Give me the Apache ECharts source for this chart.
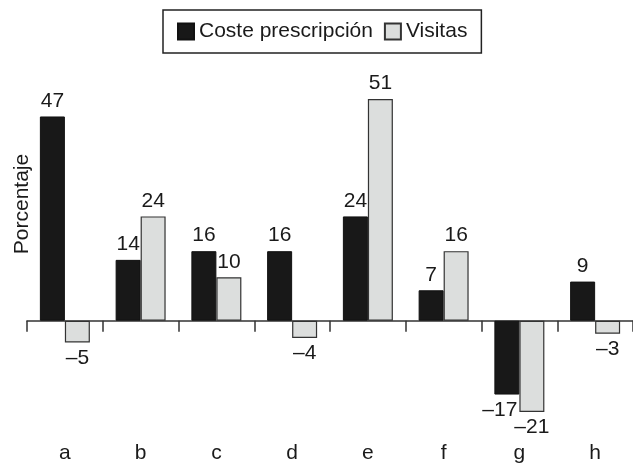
<!DOCTYPE html>
<html>
<head>
<meta charset="utf-8">
<script src="https://cdn.jsdelivr.net/npm/echarts@6/dist/echarts.min.js"></script>
<style>
html,body{margin:0;padding:0;background:#fff;}
#chart{width:633px;height:464px;}
</style>
</head>
<body>
<div id="chart"></div>
<script>
const categories = ['a','b','c','d','e','f','g','h'];
const costePrescripcion = [47, 14, 16, 16, 24, 7, -17, 9];
const visitas = [-5, 24, 10, -4, 51, 16, -21, -3];
const seriesNames = ['Coste prescripción', 'Visitas'];
const yAxisTitle = 'Porcentaje';

const FONT = '"Liberation Sans", Arial, sans-serif';
const TEXT = '#1a1a1a';
const FS = 21;

function fmt(p) {
  const v = p.value;
  return v < 0 ? '\u2013' + Math.abs(v) : String(v);
}

function labelled(values, isBlack) {
  return values.map(function (v, i) {
    const item = { value: v, label: { position: v < 0 ? 'bottom' : 'top' } };
    if (isBlack && v < 0 && visitas[i] < 0) {
      item.label.offset = [-7, 0];
    }
    return item;
  });
}

const chart = echarts.init(document.getElementById('chart'), null, { renderer: 'canvas' });
chart.setOption({
  animation: false,
  backgroundColor: '#ffffff',
  textStyle: { fontFamily: FONT },
  legend: {
    left: 163,
    top: 10,
    padding: [11, 14, 11, 14],
    itemWidth: 16,
    itemHeight: 16,
    itemGap: 11,
    borderColor: '#222',
    borderWidth: 1.5,
    borderRadius: 0,
    textStyle: { fontSize: FS, color: TEXT, fontFamily: FONT },
    data: [
      { name: seriesNames[0], icon: 'rect' },
      { name: seriesNames[1], icon: 'rect' }
    ]
  },
  graphic: [{
    type: 'text',
    x: 22,
    y: 204,
    rotation: Math.PI / 2,
    style: {
      text: yAxisTitle,
      fontSize: FS,
      fontFamily: FONT,
      fill: TEXT,
      align: 'center',
      verticalAlign: 'middle'
    }
  }],
  grid: { left: 27, right: 0, top: 60, bottom: 25.5, containLabel: false },
  xAxis: [
    {
      type: 'category',
      data: categories,
      position: 'bottom',
      axisLine: { show: false, onZero: false },
      axisTick: { show: false },
      axisLabel: { fontSize: FS, color: TEXT, margin: 5, fontFamily: FONT },
      splitLine: { show: false }
    },
    {
      type: 'category',
      data: categories,
      position: 'top',
      axisLine: { show: true, onZero: true, lineStyle: { color: '#333', width: 1.5 } },
      axisTick: { show: true, inside: true, length: 11, lineStyle: { color: '#333', width: 1.5 } },
      axisLabel: { show: false },
      splitLine: { show: false }
    }
  ],
  yAxis: {
    type: 'value',
    min: -27,
    max: 60,
    show: false,
    splitLine: { show: false }
  },
  series: [
    {
      name: seriesNames[0],
      type: 'bar',
      xAxisIndex: 0,
      barWidth: 25,
      barGap: '0%',
      data: labelled(costePrescripcion, true),
      itemStyle: { color: '#181818', borderColor: '#111', borderWidth: 1 },
      label: { show: true, fontSize: FS, color: TEXT, fontFamily: FONT, distance: 5, formatter: fmt }
    },
    {
      name: seriesNames[1],
      type: 'bar',
      xAxisIndex: 0,
      barWidth: 25,
      barGap: '0%',
      data: labelled(visitas, false),
      itemStyle: { color: '#dcdedd', borderColor: '#333', borderWidth: 1.2 },
      label: { show: true, fontSize: FS, color: TEXT, fontFamily: FONT, distance: 5, formatter: fmt }
    }
  ]
});
</script>
</body>
</html>
